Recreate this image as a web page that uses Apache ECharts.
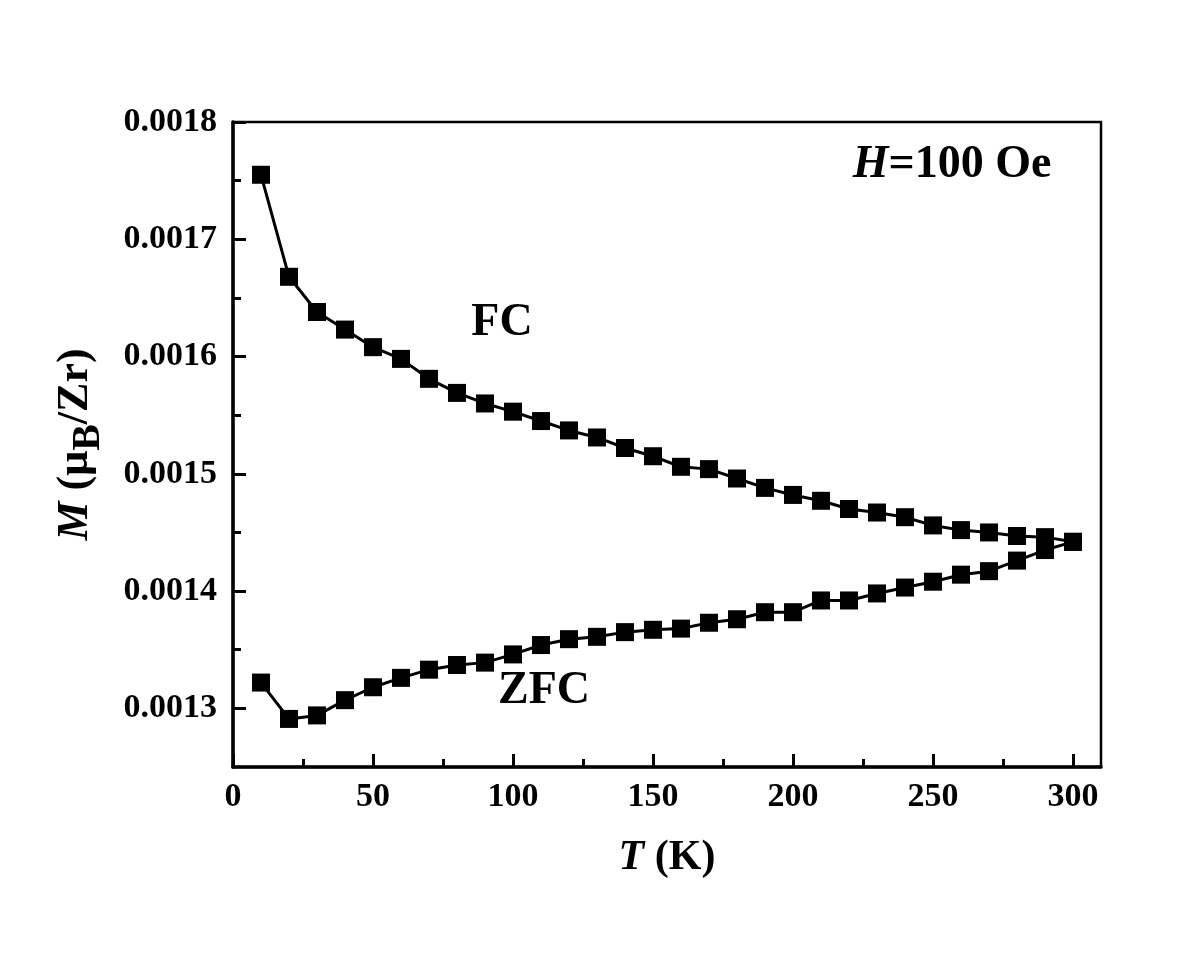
<!DOCTYPE html>
<html>
<head>
<meta charset="utf-8">
<script src="https://cdn.jsdelivr.net/npm/echarts@6/dist/echarts.min.js"></script>
<style>
  html, body { margin: 0; padding: 0; background: #fff; }
  #chart { width: 1200px; height: 957px; }
</style>
</head>
<body>
<div id="chart"></div>
<script>
// temperatures (K)
const temps = [10, 20, 30, 40, 50, 60, 70, 80, 90, 100, 110, 120, 130, 140, 150,
  160, 170, 180, 190, 200, 210, 220, 230, 240, 250, 260, 270, 280, 290, 300]

// field-cooled magnetisation (muB/Zr)
const fcValues = [0.001755, 0.001668, 0.001638, 0.001623, 0.001608, 0.001598, 0.001581,
  0.001569, 0.00156, 0.001553, 0.001545, 0.001537, 0.001531, 0.001522, 0.001515,
  0.001506, 0.001504, 0.001496, 0.001488, 0.001482, 0.001477, 0.00147, 0.001467,
  0.001463, 0.001456, 0.001452, 0.00145, 0.001447, 0.001446, 0.001442]

// zero-field-cooled magnetisation (muB/Zr)
const zfcValues = [0.001322, 0.001291, 0.001294, 0.001307, 0.001318, 0.001326, 0.001333,
  0.001337, 0.001339, 0.001346, 0.001354, 0.001359, 0.001361, 0.001365, 0.001367,
  0.001368, 0.001373, 0.001376, 0.001382, 0.001382, 0.001392, 0.001392, 0.001398,
  0.001403, 0.001408, 0.001414, 0.001417, 0.001426, 0.001435, 0.001442]

const xMajorTicks = [0, 50, 100, 150, 200, 250, 300]
const xMinorTicks = [25, 75, 125, 175, 225, 275]
const yMajorTicks = [0.0013, 0.0014, 0.0015, 0.0016, 0.0017, 0.0018]
const yMinorTicks = [0.00135, 0.00145, 0.00155, 0.00165, 0.00175]

const FONT = "'Liberation Serif', 'Times New Roman', serif"

const chart = echarts.init(document.getElementById('chart'))

const makeSeries = (name, values) => ({
  name,
  type: 'line',
  data: temps.map((t, i) => [t, values[i]]),
  symbol: 'rect',
  symbolSize: 18,
  itemStyle: { color: '#000' },
  lineStyle: { color: '#000', width: 3 },
  animation: false
})

chart.setOption({
  backgroundColor: '#fff',
  grid: {
    left: 233,
    right: 99,
    top: 122,
    bottom: 190,
    show: true,
    borderColor: '#000',
    borderWidth: 2.5
  },
  xAxis: [{
    type: 'value',
    min: 0,
    max: 310,
    name: '{i|T} (K)',
    nameLocation: 'middle',
    nameGap: 70,
    nameTextStyle: {
      fontFamily: FONT,
      fontWeight: 'bold',
      fontSize: 42,
      color: '#000',
      rich: {
        i: { fontFamily: FONT, fontWeight: 'bold', fontStyle: 'italic', fontSize: 42, color: '#000' }
      }
    },
    axisLine: { show: true, lineStyle: { color: '#000', width: 3.5 } },
    axisTick: { show: true, inside: true, length: 13, customValues: xMajorTicks, lineStyle: { color: '#000', width: 3 } },
    axisLabel: {
      customValues: xMajorTicks,
      margin: 13,
      fontFamily: FONT,
      fontWeight: 'bold',
      fontSize: 34,
      color: '#000'
    },
    splitLine: { show: false }
  }, {
    type: 'value',
    min: 0,
    max: 310,
    position: 'bottom',
    axisLine: { show: false },
    axisTick: { show: true, inside: true, length: 8, customValues: xMinorTicks, lineStyle: { color: '#000', width: 3 } },
    axisLabel: { show: false },
    splitLine: { show: false }
  }],
  yAxis: [{
    type: 'value',
    min: 0.00125,
    max: 0.0018,
    name: '{i|M} (μ{sub|B}/Zr)',
    nameLocation: 'middle',
    nameRotate: 90,
    nameGap: 124,
    nameTextStyle: {
      fontFamily: FONT,
      fontWeight: 'bold',
      fontSize: 44,
      color: '#000',
      rich: {
        i: { fontFamily: FONT, fontWeight: 'bold', fontStyle: 'italic', fontSize: 44, color: '#000' },
        sub: { fontFamily: FONT, fontWeight: 'bold', fontSize: 40, color: '#000', padding: [26, 0, 0, 0] }
      }
    },
    axisLine: { show: true, lineStyle: { color: '#000', width: 3.5 } },
    axisTick: { show: true, inside: true, length: 13, customValues: yMajorTicks, lineStyle: { color: '#000', width: 3 } },
    axisLabel: {
      customValues: yMajorTicks,
      margin: 16,
      fontFamily: FONT,
      fontWeight: 'bold',
      fontSize: 34,
      color: '#000',
      formatter: (v) => v.toFixed(4)
    },
    splitLine: { show: false }
  }, {
    type: 'value',
    min: 0.00125,
    max: 0.0018,
    position: 'left',
    axisLine: { show: false },
    axisTick: { show: true, inside: true, length: 8, customValues: yMinorTicks, lineStyle: { color: '#000', width: 3 } },
    axisLabel: { show: false },
    splitLine: { show: false }
  }],
  series: [
    makeSeries('FC', fcValues),
    makeSeries('ZFC', zfcValues)
  ],
  graphic: [{
    type: 'text',
    x: 952,
    y: 165,
    style: {
      text: '{i|H}=100 Oe',
      align: 'center',
      verticalAlign: 'middle',
      font: `bold 46px ${FONT}`,
      fill: '#000',
      rich: {
        i: { fontFamily: FONT, fontWeight: 'bold', fontStyle: 'italic', fontSize: 46, fill: '#000' }
      }
    }
  }, {
    type: 'text',
    x: 502,
    y: 323,
    style: { text: 'FC', align: 'center', verticalAlign: 'middle', font: `bold 46px ${FONT}`, fill: '#000' }
  }, {
    type: 'text',
    x: 544,
    y: 691,
    style: { text: 'ZFC', align: 'center', verticalAlign: 'middle', font: `bold 46px ${FONT}`, fill: '#000' }
  }]
})
</script>
</body>
</html>
